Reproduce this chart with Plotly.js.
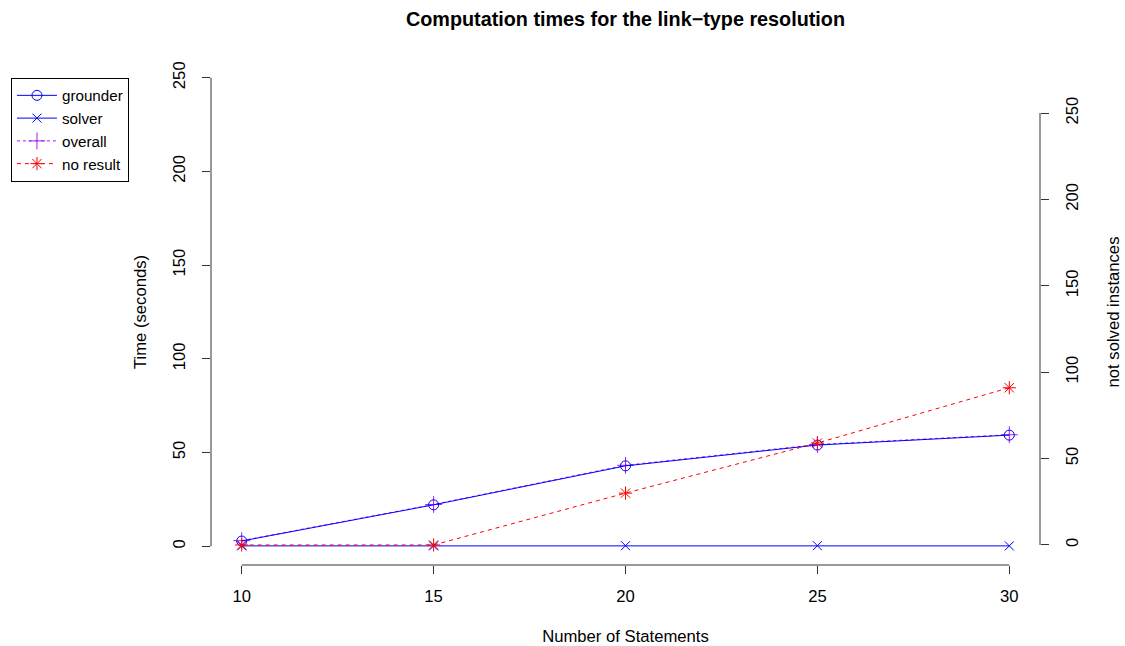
<!DOCTYPE html>
<html>
<head>
<meta charset="utf-8">
<script src="https://cdn.plot.ly/plotly-3.0.1.min.js"></script>
<style>html,body{margin:0;padding:0;background:#fff;}#chart{width:1125px;height:646px;}</style>
</head>
<body>
<div id="chart"></div>
<script>
const statements = [10, 15, 20, 25, 30];
const grounder = [2.8, 22.1, 42.9, 54.0, 59.3];
const solver = [0.2, 0.2, 0.3, 0.3, 0.2];
const overall = [3.0, 22.3, 43.2, 54.3, 59.5];
const noResult = [0, 0, 30, 59, 91];
const yTicks = [0, 50, 100, 150, 200, 250];
const xTicks = [10, 15, 20, 25, 30];

const font = "Liberation Sans, Arial, Helvetica, sans-serif";
const fs = 16.67;

const traces = [
  {x: statements, y: overall, name: 'overall', type: 'scatter', mode: 'lines+markers',
   line: {color: '#A020F0', width: 1, dash: 'dot'},
   marker: {symbol: 'cross-thin-open', size: 12, color: '#A020F0', line: {color: '#A020F0', width: 1}},
   legendrank: 3},
  {x: statements, y: grounder, name: 'grounder', type: 'scatter', mode: 'lines+markers',
   line: {color: '#0000FF', width: 1},
   marker: {symbol: 'circle-open', size: 10, color: '#0000FF', line: {color: '#0000FF', width: 1}},
   legendrank: 1},
  {x: statements, y: solver, name: 'solver', type: 'scatter', mode: 'lines+markers',
   line: {color: '#0000FF', width: 1},
   marker: {symbol: 'x-thin-open', size: 9, color: '#0000FF', line: {color: '#0000FF', width: 1}},
   legendrank: 2},
  {x: statements, y: noResult, name: 'no result', type: 'scatter', mode: 'lines+markers', yaxis: 'y2',
   line: {color: '#FF0000', width: 1, dash: '4px,4px'},
   marker: {symbol: 'asterisk-open', size: 11, color: '#FF0000', line: {color: '#FF0000', width: 1}},
   legendrank: 4}
];

const axisColor = '#333';
const layout = {
  width: 1125, height: 646,
  paper_bgcolor: '#fff', plot_bgcolor: '#fff',
  margin: {l: 210, r: 85, t: 59, b: 81},
  font: {family: font, size: fs, color: '#000'},
  title: {text: '<b>Computation times for the link\u2212type resolution</b>', x: 0.5, xref: 'paper', xanchor: 'center',
          y: 1 - 19/646, yref: 'container', yanchor: 'middle', font: {family: font, size: 19.8, color: '#000'}},
  showlegend: true,
  legend: {x: -0.2398, y: 0.9625, xanchor: 'left', yanchor: 'top', bgcolor: '#fff', bordercolor: '#000', borderwidth: 1,
           font: {family: font, size: 15.2}, itemwidth: 40, tracegroupgap: 0},
  xaxis: {range: [9.2, 30.8], tickvals: xTicks, ticktext: xTicks.map(String), showgrid: false, zeroline: false, showline: false,
          ticks: 'outside', ticklen: 8, tickcolor: axisColor, tickfont: {size: fs}, ticklabelstandoff: 8,
          title: {text: 'Number of Statements', font: {size: fs}, standoff: 25}},
  yaxis: {range: [-10, 260], tickvals: yTicks, ticktext: yTicks.map(String), showgrid: false, zeroline: false, showline: false,
          ticks: 'outside', ticklen: 8, tickcolor: axisColor, tickangle: -90, tickfont: {size: fs}, ticklabelstandoff: 10,
          title: {text: 'Time (seconds)', font: {size: fs}, standoff: 19}},
  yaxis2: {range: [-11.6, 281.3], overlaying: 'y', side: 'right', tickvals: yTicks, ticktext: yTicks.map(String), showgrid: false, zeroline: false, showline: false,
           ticks: 'outside', ticklen: 8, tickcolor: axisColor, tickangle: -90, tickfont: {size: fs}, ticklabelstandoff: 9,
           title: {text: 'not solved instances', font: {size: fs}, standoff: 26}},
  shapes: [
    {type: 'line', xref: 'paper', yref: 'y', x0: 0, x1: 0, y0: yTicks[0], y1: yTicks[yTicks.length-1], line: {color: axisColor, width: 1}},
    {type: 'line', xref: 'paper', yref: 'y2', x0: 1, x1: 1, y0: yTicks[0], y1: yTicks[yTicks.length-1], line: {color: axisColor, width: 1}},
    {type: 'line', xref: 'x', yref: 'paper', x0: xTicks[0], x1: xTicks[xTicks.length-1], y0: 0, y1: 0, line: {color: axisColor, width: 1}}
  ]
};

Plotly.newPlot('chart', traces, layout, {displayModeBar: false, staticPlot: true});
</script>
</body>
</html>
